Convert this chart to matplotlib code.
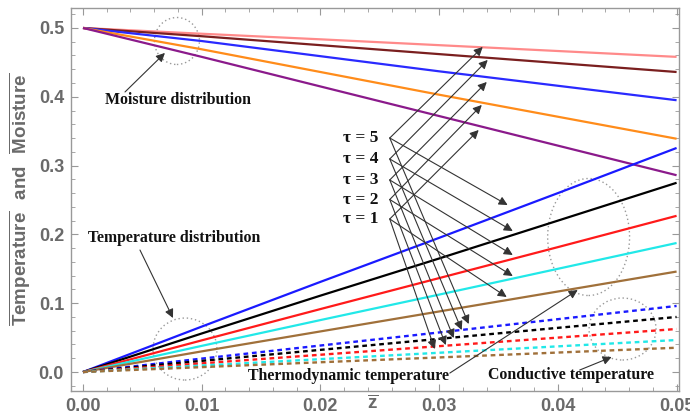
import matplotlib
matplotlib.use("Agg")
import matplotlib.pyplot as plt
from matplotlib.patches import Ellipse
from matplotlib.ticker import MultipleLocator, FuncFormatter

plt.rcParams['font.family'] = ['Liberation Sans', 'DejaVu Sans']
plt.rcParams['font.weight'] = 'bold'
plt.rcParams['mathtext.fontset'] = 'custom'
plt.rcParams['mathtext.rm'] = 'Liberation Sans:bold'
plt.rcParams['mathtext.bf'] = 'Liberation Sans:bold'

# ---- data ----
z = [0.0, 0.01, 0.02, 0.03, 0.04, 0.05]
tau_labels = ["τ = 5", "τ = 4", "τ = 3", "τ = 2", "τ = 1"]

moist_tau5 = [0.5, 0.4916, 0.4835, 0.4750, 0.4665, 0.458]
moist_tau4 = [0.5, 0.4880, 0.4750, 0.4620, 0.4490, 0.436]
moist_tau3 = [0.5, 0.4810, 0.4590, 0.4370, 0.4160, 0.395]
moist_tau2 = [0.5, 0.4690, 0.4360, 0.4030, 0.3710, 0.339]
moist_tau1 = [0.5, 0.4580, 0.4150, 0.3720, 0.3290, 0.286]

temp_tau5 = [0.0, 0.0660, 0.1310, 0.1950, 0.2600, 0.3256]
temp_tau4 = [0.0, 0.0560, 0.1110, 0.1650, 0.2200, 0.2750]
temp_tau3 = [0.0, 0.0460, 0.0915, 0.1365, 0.1815, 0.2270]
temp_tau2 = [0.0, 0.0380, 0.0755, 0.1125, 0.1500, 0.1875]
temp_tau1 = [0.0, 0.0300, 0.0590, 0.0880, 0.1170, 0.1460]

cond_tau5 = [0.0, 0.0195, 0.0385, 0.0575, 0.0768, 0.0960]
cond_tau4 = [0.0, 0.0162, 0.0322, 0.0482, 0.0642, 0.0800]
cond_tau3 = [0.0, 0.0126, 0.0251, 0.0376, 0.0500, 0.0625]
cond_tau2 = [0.0, 0.0094, 0.0187, 0.0280, 0.0373, 0.0465]
cond_tau1 = [0.0, 0.0071, 0.0142, 0.0212, 0.0283, 0.0353]

moist_colors = ['#ff8a8a', '#7a1f1f', '#2a2aff', '#ff8c1a', '#8b1a8b']
temp_colors = ['#1a1aff', '#000000', '#ff1a1a', '#22e8e8', '#a0703a']

fig = plt.figure(figsize=(6.9, 4.15), dpi=100)
ax = fig.add_axes([0.1029, 0.0578, 0.8811, 0.9229])

moist = [moist_tau5, moist_tau4, moist_tau3, moist_tau2, moist_tau1]
temp = [temp_tau5, temp_tau4, temp_tau3, temp_tau2, temp_tau1]
cond = [cond_tau5, cond_tau4, cond_tau3, cond_tau2, cond_tau1]

for ys, c in zip(moist, moist_colors):
    ax.plot(z, ys, color=c, lw=1.6, solid_capstyle='butt')
for ys, c in zip(temp, temp_colors):
    ax.plot(z, ys, color=c, lw=1.6, solid_capstyle='butt')
for ys, c in zip(cond, temp_colors):
    ax.plot(z, ys, color=c, lw=1.7, linestyle=(0, (2.0, 1.6)))

ax.set_xlim(-0.00101, 0.0502)
ax.set_ylim(-0.0276, 0.529)

gray = '#6a6a6a'
ax.xaxis.set_major_locator(MultipleLocator(0.01))
ax.xaxis.set_minor_locator(MultipleLocator(0.002))
ax.yaxis.set_major_locator(MultipleLocator(0.1))
ax.yaxis.set_minor_locator(MultipleLocator(0.02))
ax.xaxis.set_major_formatter(FuncFormatter(lambda v, p: f"{v:.2f}"))
ax.yaxis.set_major_formatter(FuncFormatter(lambda v, p: f"{v:.1f}"))
ax.tick_params(which='both', direction='in', top=True, right=True, color='#999999')
ax.tick_params(which='major', length=5, width=0.8)
ax.tick_params(which='minor', length=3, width=0.6)
ax.tick_params(axis='both', which='major', labelsize=13, labelcolor=gray)
ax.tick_params(axis='x', which='major', pad=5)
ax.tick_params(axis='y', which='major', pad=5)
for sp in ax.spines.values():
    sp.set_color('#999999')
    sp.set_linewidth(1.0)

ax.set_ylabel(r"$\overline{\mathrm{Temperature}}\ \ \mathrm{and}\ \ \overline{\mathrm{Moisture}}$",
              fontsize=13.5, color=gray, labelpad=5)
fig.text(373 / 690, 1 - 404 / 415, r"$\overline{\mathrm{z}}$", fontsize=13.5, color=gray,
         ha='center', va='center')

serif = dict(family='Liberation Serif', fontweight='bold', fontsize=11.4, color='#111111')
tau_font = dict(family='Liberation Serif', fontweight='bold', fontsize=12.5, color='#111111')
arrow_kw = dict(arrowstyle='-|>', color='#333333', lw=0.8, mutation_scale=13, shrinkA=0, shrinkB=0)

# labels with arrows
ax.text(0.00185, 0.3953, "Moisture distribution", ha='left', va='center', **serif)
ax.annotate("", xy=(0.0069, 0.4637), xytext=(0.00354, 0.407), arrowprops=arrow_kw)
ax.text(0.00042, 0.1948, "Temperature distribution", ha='left', va='center', **serif)
ax.annotate("", xy=(0.00758, 0.0785), xytext=(0.0048, 0.1773), arrowprops=arrow_kw)
ax.text(0.01389, -0.0058, "Thermodynamic temperature", ha='left', va='center', **serif)
ax.annotate("", xy=(0.04167, 0.1192), xytext=(0.0309, -0.0015), arrowprops=arrow_kw)
ax.text(0.03409, -0.0044, "Conductive temperature", ha='left', va='center', **serif)
ax.annotate("", xy=(0.04453, 0.0218), xytext=(0.04184, 0.0029), arrowprops=arrow_kw)

ell_kw = dict(fill=False, edgecolor='#999999', linestyle=(0, (1, 2)), lw=1.0)
ax.add_patch(Ellipse((0.00791, 0.4811), 0.00379, 0.0683, **ell_kw))
ax.add_patch(Ellipse((0.00859, 0.0334), 0.00539, 0.0901, **ell_kw))
ax.add_patch(Ellipse((0.04259, 0.1962), 0.0069, 0.170, **ell_kw))
ax.add_patch(Ellipse((0.04545, 0.0625), 0.00564, 0.0901, **ell_kw))

# tau labels and arrows
tau_y = [0.3401, 0.3096, 0.2791, 0.2507, 0.2224]
tail_x = 0.02584
head_m = [(0.03367, 0.4724), (0.03409, 0.4535), (0.03401, 0.4215), (0.03359, 0.3881), (0.03333, 0.3517)]
head_s = [(0.03577, 0.2427), (0.03620, 0.2049), (0.03620, 0.1701), (0.03620, 0.1395), (0.03569, 0.1090)]
head_d = [(0.03249, 0.0698), (0.03190, 0.0610), (0.03123, 0.0494), (0.03056, 0.0392), (0.02963, 0.0334)]
for lab, ty, hm, hs, hd in zip(tau_labels, tau_y, head_m, head_s, head_d):
    ax.text(0.02189, ty, lab, ha='left', va='center', **tau_font)
    for h in (hm, hs, hd):
        ax.annotate("", xy=h, xytext=(tail_x, ty), arrowprops=arrow_kw)

fig.savefig("out.png", dpi=100)
